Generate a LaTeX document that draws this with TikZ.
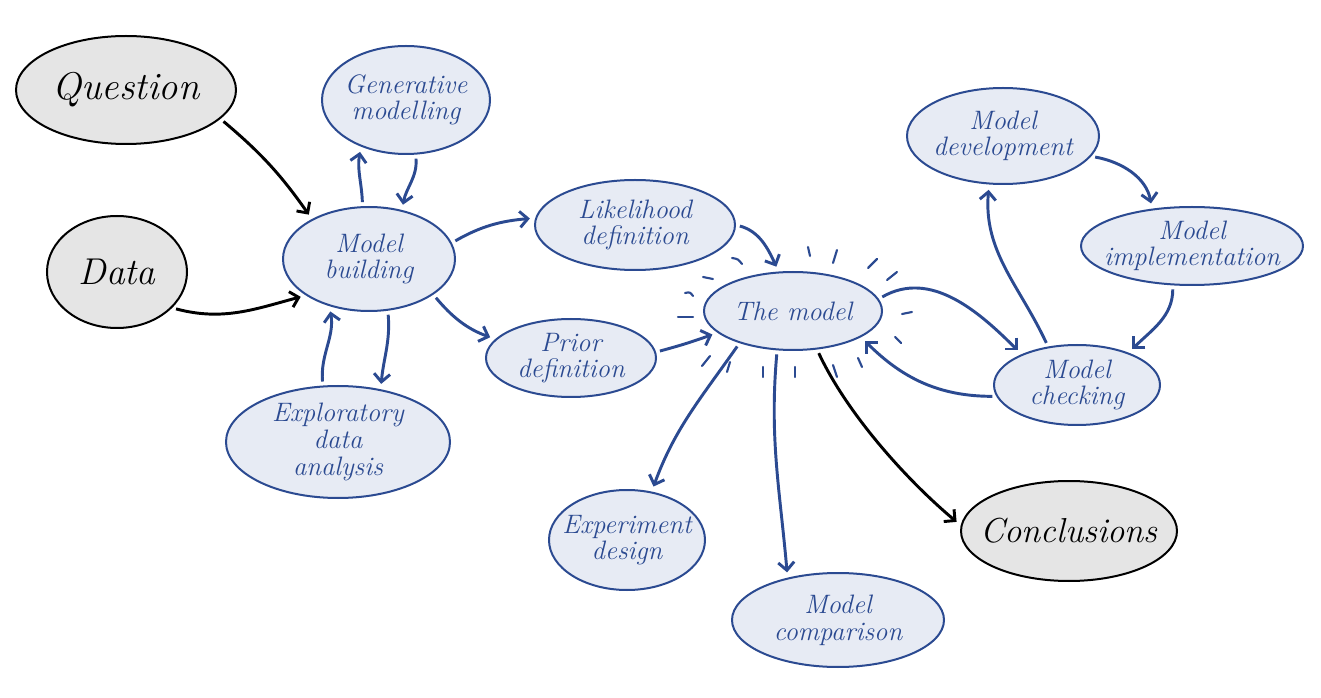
\documentclass[tikz,border=0pt]{standalone}
\usepackage{fontspec}
\setmainfont{Latin Modern Roman}
\usetikzlibrary{shapes.geometric,arrows.meta}
\definecolor{bl}{RGB}{43,74,145}
\definecolor{blfill}{RGB}{231,235,244}
\definecolor{gyfill}{RGB}{229,229,229}
\begin{document}
\begin{tikzpicture}[x=0.75pt,y=-0.75pt,
 el/.style 2 args={ellipse, inner sep=0pt, minimum width=#1*1.5pt, minimum height=#2*1.5pt},
 bnode/.style={draw=bl, fill=blfill, line width=1.5pt},
 gnode/.style={draw=black, fill=gyfill, line width=1.5pt},
 btxt/.style={text=bl, font=\fontsize{20}{20}\selectfont\itshape, align=center},
 gtxt/.style={text=black, font=\fontsize{#1}{30}\selectfont\itshape},
 barr/.style={draw=bl, line width=2.2pt, -{Straight Barb[length=6pt,width=12pt]}, shorten <=3pt, shorten >=4pt},
 karr/.style={barr, draw=black},
 ray/.style={draw=bl, line width=1.6pt, line cap=round}]
\useasboundingbox (0,0) rectangle (1321,698);

% black nodes
\node[gnode, el={110}{54}] (q) at (126,90) {};
\node[gtxt=29] (qt) at (q) {Question};
\node[gnode, el={70}{56}] (d) at (117,272) {};
\node[gtxt=28] (dt) at (d) {Data};
\node[gnode, el={108}{50}] (c) at (1069,531) {};
\node[gtxt=26] (ct) at (c) {Conclusions};

% blue nodes
\node[bnode, el={84}{54}] (gm) at (406,100) {};
\node[btxt] (gmt) at (gm) {Generative\\modelling};
\node[bnode, el={86}{52}] (mb) at (369,259) {};
\node[btxt] (mbt) at (mb) {Model\\building};
\node[bnode, el={112}{56}] (eda) at (338,442) {};
\node[btxt] (edat) at (eda) {Exploratory\\data\\analysis};
\node[bnode, el={100}{45}] (lik) at (635,225) {};
\node[btxt] (likt) at (lik) {Likelihood\\definition};
\node[bnode, el={85}{39}] (pr) at (571,358) {};
\node[btxt] (prt) at (pr) {Prior\\definition};
\node[bnode, el={89}{39}] (tm) at (793,311) {};
\node[btxt] (tmt) at (tm) {The model};
\node[bnode, el={78}{50}] (ed) at (627,540) {};
\node[btxt] (edt) at (ed) {Experiment\\design};
\node[bnode, el={106}{47}] (cmp) at (838,620) {};
\node[btxt] (cmpt) at (cmp) {Model\\comparison};
\node[bnode, el={96}{48}] (md) at (1003,136) {};
\node[btxt] (mdt) at (md) {Model\\development};
\node[bnode, el={111}{39}] (mi) at (1192,246) {};
\node[btxt] (mit) at (mi) {Model\\implementation};
\node[bnode, el={83}{40}] (mc) at (1077,385) {};
\node[btxt] (mct) at (mc) {Model\\checking};

% rays around the model
\draw[ray] (808,247) -- (810,256);
\draw[ray] (837,250) -- (833,263);
\draw[ray] (877,259) -- (868,268);
\draw[ray] (897,272) -- (887,280);
\draw[ray] (912,312) -- (902,314);
\draw[ray] (895,337) -- (901,343);
\draw[ray] (858,358) -- (862,367);
\draw[ray] (833,365) -- (837,377);
\draw[ray] (795,367) -- (795,377);
\draw[ray] (763,367) -- (763,377);
\draw[ray] (730,362) -- (727,372);
\draw[ray] (710,356) -- (702,366);
\draw[ray] (678,317) -- (693,317);
\draw[ray] (685,293) .. controls (690,292) .. (693,296);
\draw[ray] (703,277) -- (713,279);
\draw[ray] (732,258) .. controls (738,259) .. (742,264);

% black arrows
\draw[karr] (q.-17) to[out=-40,in=125] (mb.145);
\draw[karr] (d.-33) to[out=-15,in=195] (mb.-150);
\draw[karr] (tm.-58) to[out=-65,in=140, looseness=0.8] (c.177);

% blue arrows
\draw[barr] (mb.97) to[out=92,in=-100] (gm.-134);
\draw[barr] (gm.-80) to[out=-85,in=80] (mb.56);
\draw[barr] (mb.11) to[out=30,in=185] (lik.176);
\draw[barr] (mb.-29) to[out=-50,in=160] (pr.166);
\draw[barr] (eda.105) to[out=95,in=-80] (mb.-130);
\draw[barr] (mb.-70) to[out=-85,in=85] (eda.51);
\draw[barr] (lik.0) to[out=-15,in=115] (tm.110);
\draw[barr] (pr.4) to[out=15,in=200] (tm.196);
\draw[barr] (tm.8) to[out=30,in=135] (mc.151);
\draw[barr] (mc.188) to[out=180,in=-45] (tm.-21);
\draw[barr] (mc.127) to[out=115,in=-95] (md.-106);
\draw[barr] (md.-13) to[out=-10,in=100] (mi.137);
\draw[barr] (mi.-116) to[out=-90,in=45] (mc.32);
\draw[barr] (tm.-149) to[out=-125,in=70] (ed.63);
\draw[barr] (tm.-112) to[out=-95,in=95] (cmp.140);
\end{tikzpicture}
\end{document}
